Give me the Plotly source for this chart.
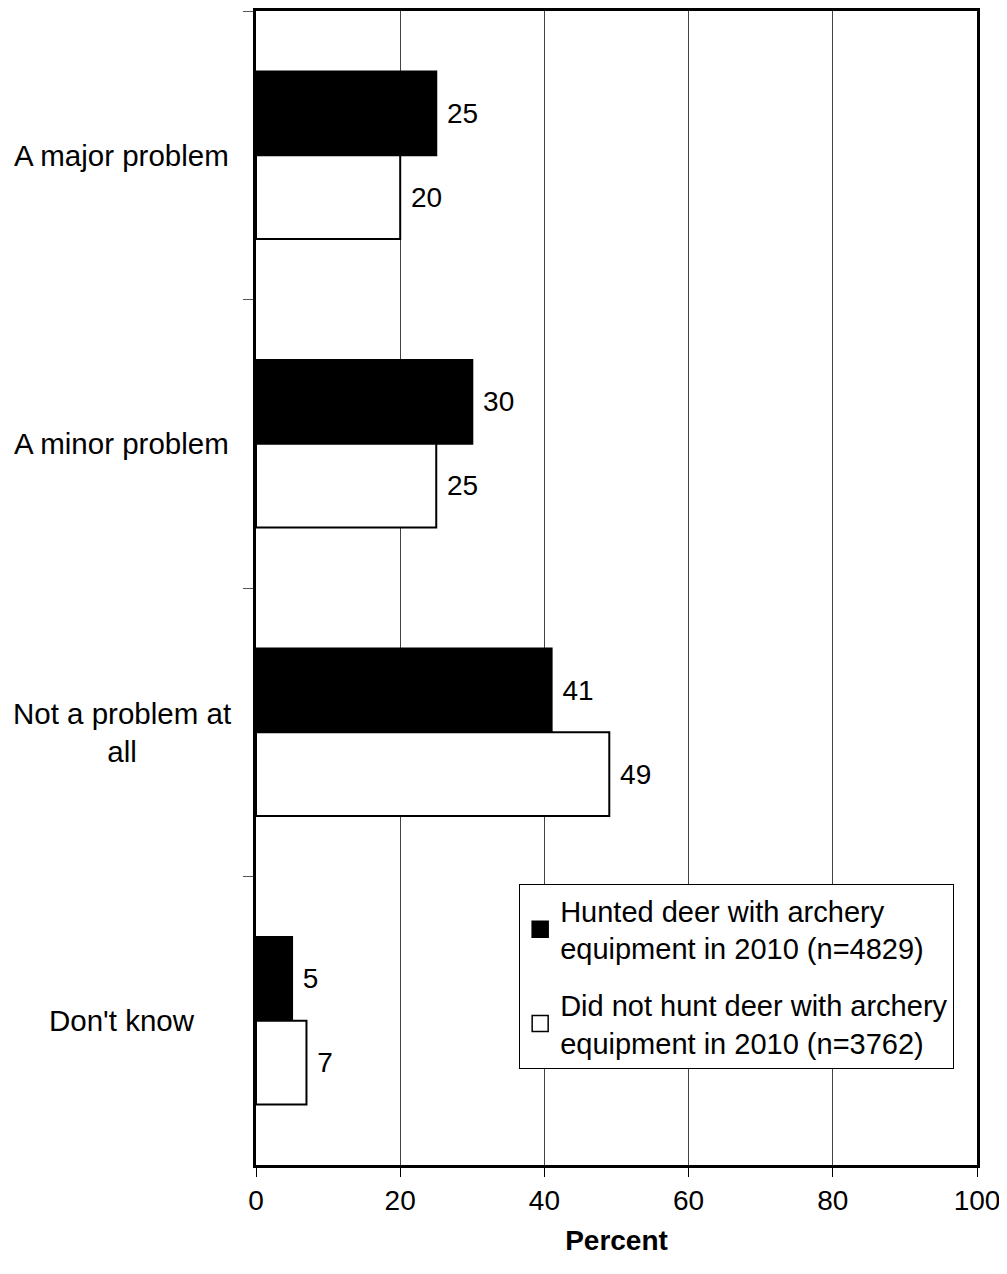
import plotly.graph_objects as go

categories = ["A major problem", "A minor problem", "Not a problem at all", "Don't know"]
category_labels = ["A major problem", "A minor problem", "Not a problem at<br>all", "Don't know"]
hunted = [25, 30, 41, 5]
not_hunted = [20, 25, 49, 7]
series_names = ["Hunted deer with archery<br>equipment in 2010 (n=4829)",
                "Did not hunt deer with archery<br>equipment in 2010 (n=3762)"]
series_colors = ["black", "white"]
x_ticks = [0, 20, 40, 60, 80, 100]

FONT = "Liberation Sans, Arial, sans-serif"

fig = go.Figure()
for vals, name, color, grp in [(hunted, series_names[0], series_colors[0], "a"),
                               (not_hunted, series_names[1], series_colors[1], "b")]:
    fig.add_trace(go.Bar(
        y=categories, x=vals, orientation="h", name=name,
        marker=dict(color=color, line=dict(color="black", width=2)),
        text=[str(v) for v in vals], textposition="outside",
        texttemplate=" %{text}", cliponaxis=False,
        textfont=dict(size=28, color="black", family=FONT),
        legendgroup=grp, showlegend=False,
    ))

# legend entries with larger square symbols
for name, color, grp in [(series_names[0], series_colors[0], "a"),
                         (series_names[1], series_colors[1], "b")]:
    fig.add_trace(go.Scatter(
        x=[None], y=[None], mode="markers", name=name, legendgroup=grp,
        marker=dict(symbol="square", size=20, color=color, line=dict(color="black", width=1.5)),
        showlegend=True, hoverinfo="skip",
    ))

for cat, lab in zip(categories, category_labels):
    fig.add_annotation(
        x=-0.186, xref="paper", y=cat, yref="y", text=lab, showarrow=False,
        xanchor="center", yanchor="middle", align="center",
        font=dict(size=29.5, color="black", family=FONT),
    )

fig.update_layout(
    width=999, height=1266,
    margin=dict(l=248, r=30, t=0, b=109),
    paper_bgcolor="white", plot_bgcolor="white",
    barmode="group", bargap=0.42, bargroupgap=0,
    font=dict(family=FONT, size=28, color="black"),
    showlegend=True,
    legend=dict(
        x=0.365, y=0.2435, xanchor="left", yanchor="top",
        bgcolor="white", bordercolor="black", borderwidth=1,
        font=dict(size=29, family=FONT, color="black"),
        tracegroupgap=16, itemwidth=30,
    ),
    xaxis=dict(
        range=[0, 100], tickvals=x_ticks, ticktext=[str(t) for t in x_ticks],
        showgrid=True, gridcolor="#444444", gridwidth=1,
        showline=True, linecolor="black", linewidth=2.5, mirror=True,
        ticks="outside", ticklen=9, tickcolor="black", tickwidth=1,
        tickfont=dict(size=28, family=FONT, color="black"),
        title=dict(text="<b>Percent</b>", font=dict(size=28, family=FONT, color="black"), standoff=16),
        zeroline=False, fixedrange=True,
    ),
    yaxis=dict(
        categoryorder="array", categoryarray=categories, autorange="reversed",
        showticklabels=False, tickson="boundaries",
        ticks="outside", ticklen=10, tickcolor="#555555", tickwidth=1,
        showline=True, linecolor="black", linewidth=2.5, mirror=True,
        showgrid=False, zeroline=False,
    ),
)

fig.write_html("out.html")
